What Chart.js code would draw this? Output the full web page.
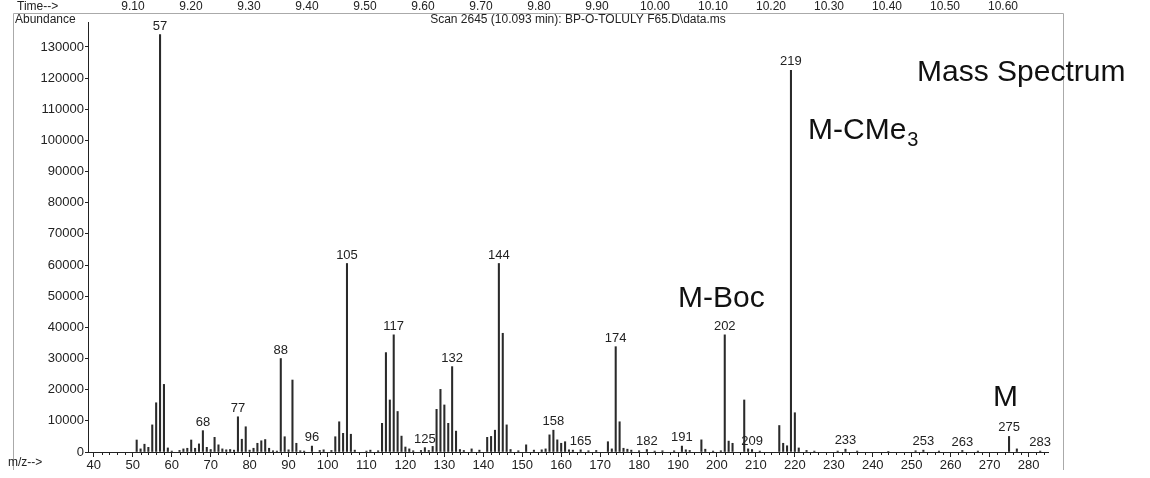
<!DOCTYPE html>
<html>
<head>
<meta charset="utf-8">
<title>Mass Spectrum</title>
<script src="https://cdn.jsdelivr.net/npm/chart.js@4.4.1/dist/chart.umd.min.js"></script>
<style>
  html, body { margin: 0; padding: 0; background: #fff; }
  #wrap { position: relative; width: 1150px; height: 478px; }
  #spec { position: absolute; left: 0; top: 0; }
</style>
</head>
<body>
<div id="wrap"><canvas id="spec" width="1150" height="478"></canvas></div>
<script>
/* ── spectrum data (m/z, abundance) ── */
const mzValues = [
  51, 52, 53, 54, 55, 56, 57, 58, 59, 60, 62, 63, 64, 65, 66, 67, 68, 69, 70, 71,
  72, 73, 74, 75, 76, 77, 78, 79, 80, 81, 82, 83, 84, 85, 86, 87, 88, 89, 90, 91,
  92, 93, 94, 96, 98, 99, 101, 102, 103, 104, 105, 106, 107, 110, 111, 113, 114, 115, 116, 117,
  118, 119, 120, 121, 122, 124, 125, 126, 127, 128, 129, 130, 131, 132, 133, 134, 135, 137, 139, 141,
  142, 143, 144, 145, 146, 147, 149, 151, 153, 155, 156, 157, 158, 159, 160, 161, 162, 163, 165, 167,
  169, 172, 173, 174, 175, 176, 177, 178, 180, 182, 184, 186, 189, 191, 192, 193, 196, 197, 199, 201,
  202, 203, 204, 207, 208, 209, 211, 216, 217, 218, 219, 220, 221, 223, 225, 231, 233, 236, 244, 251,
  253, 257, 263, 267, 275, 277, 283
];
const abundanceValues = [
  3850, 1000, 2500, 1500, 8700, 15800, 134000, 21700, 1300, 300, 500, 1000, 1200, 3850, 1200, 2600, 6850, 1500, 800, 4700,
  2300, 1000, 700, 800, 600, 11300, 4100, 8100, 600, 1200, 2800, 3600, 4000, 1200, 400, 300, 30000, 4900, 700, 23100,
  2800, 400, 300, 1900, 500, 700, 500, 4900, 9700, 6000, 60500, 5700, 600, 300, 600, 400, 9200, 31900, 16700, 37600,
  13000, 5100, 1600, 1000, 400, 500, 1400, 500, 1800, 13700, 20100, 15100, 9200, 27400, 6700, 800, 500, 1000, 600, 4700,
  5000, 7000, 60500, 38100, 8700, 800, 400, 2300, 600, 700, 1000, 5500, 7000, 3900, 2800, 3300, 700, 600, 700, 400,
  500, 3300, 1000, 33800, 9700, 1200, 900, 600, 400, 800, 300, 400, 400, 1900, 700, 500, 3900, 900, 300, 400,
  37600, 3500, 2800, 16700, 1000, 800, 300, 8500, 2800, 2000, 122500, 12600, 1300, 500, 300, 300, 900, 300, 200, 400,
  600, 300, 500, 300, 5000, 1000, 300
];
const labeledPeaks = [57, 68, 77, 88, 96, 105, 117, 125, 132, 144, 158, 165, 174, 182, 191, 202, 209, 219, 233, 253, 263, 275, 283];
const mzTicks = [40, 50, 60, 70, 80, 90, 100, 110, 120, 130, 140, 150, 160, 170, 180, 190, 200, 210, 220, 230, 240, 250, 260, 270, 280];
const abundanceTicks = [0, 10000, 20000, 30000, 40000, 50000, 60000, 70000, 80000, 90000, 100000, 110000, 120000, 130000];
const timeLabels = ["9.10", "9.20", "9.30", "9.40", "9.50", "9.60", "9.70", "9.80", "9.90", "10.00", "10.10", "10.20", "10.30", "10.40", "10.50", "10.60"];

const FONT = "'Liberation Sans', Arial, sans-serif";
const INK = "#222";

const peakData = mzValues.map((m, i) => ({ x: m, y: abundanceValues[i] }));

// peak labels, minor x ticks, header, notes
const decorPlugin = {
  id: "decor",
  afterDraw(chart) {
    const ctx = chart.ctx;
    const xs = chart.scales.x, ys = chart.scales.y;
    ctx.save();

    // frame
    ctx.strokeStyle = "#aaa";
    ctx.lineWidth = 1;
    ctx.beginPath();
    ctx.moveTo(13.5, 470); ctx.lineTo(13.5, 13.5); ctx.lineTo(1063.5, 13.5); ctx.lineTo(1063.5, 470);
    ctx.stroke();

    // minor ticks every 2 m/z
    ctx.strokeStyle = INK;
    ctx.beginPath();
    for (let m = 40; m <= 284; m += 2) {
      if (m % 10 === 0) continue;
      const px = Math.round(xs.getPixelForValue(m)) + 0.5;
      ctx.moveTo(px, ys.bottom); ctx.lineTo(px, ys.bottom + 3);
    }
    ctx.stroke();

    // peak labels
    ctx.fillStyle = INK;
    ctx.font = "13px " + FONT;
    ctx.textAlign = "center";
    ctx.textBaseline = "bottom";
    labeledPeaks.forEach(m => {
      const i = mzValues.indexOf(m);
      if (i < 0) return;
      ctx.fillText(String(m), xs.getPixelForValue(m), ys.getPixelForValue(abundanceValues[i]) - 2);
    });

    // header rows
    ctx.font = "12px " + FONT;
    ctx.textBaseline = "alphabetic";
    ctx.textAlign = "left";
    ctx.fillText("Time-->", 17, 10);
    ctx.fillText("Abundance", 15, 23);
    ctx.fillText("m/z-->", 8, 466);
    ctx.textAlign = "center";
    timeLabels.forEach((t, i) => ctx.fillText(t, 133 + i * 58, 10));
    ctx.fillText("Scan 2645 (10.093 min): BP-O-TOLULY F65.D\\data.ms", 578, 23);

    // fragment notes
    ctx.fillStyle = "#111";
    ctx.textAlign = "left";
    ctx.font = "30px " + FONT;
    ctx.fillText("Mass Spectrum", 917, 81);
    ctx.fillText("M-CMe", 808, 139);
    const w = ctx.measureText("M-CMe").width;
    ctx.font = "20px " + FONT;
    ctx.fillText("3", 808 + w + 1, 146);
    ctx.font = "30px " + FONT;
    ctx.fillText("M-Boc", 678, 307);
    ctx.fillText("M", 993, 406);
    ctx.restore();
  }
};

new Chart(document.getElementById("spec"), {
  type: "bar",
  data: {
    datasets: [{
      data: peakData,
      backgroundColor: "#2a2a2a",
      barThickness: 1.4,
      borderWidth: 0
    }]
  },
  options: {
    responsive: false,
    animation: false,
    devicePixelRatio: 1,
    layout: { padding: { top: 22, right: 102, left: 0, bottom: 0 } },
    plugins: { legend: { display: false }, tooltip: { enabled: false } },
    scales: {
      x: {
        type: "linear",
        offset: false,
        min: 38.5,
        max: 285,
        afterBuildTicks: s => { s.ticks = mzTicks.map(v => ({ value: v })); },
        afterFit: s => { s.height = 26; },
        border: { color: INK, width: 1 },
        grid: { drawOnChartArea: false, offset: false, color: INK, tickLength: 5 },
        ticks: { maxRotation: 0, autoSkip: false, color: INK, padding: 1, font: { family: FONT, size: 13 }, callback: v => String(v) }
      },
      y: {
        min: 0,
        max: 138000,
        afterBuildTicks: s => { s.ticks = abundanceTicks.map(v => ({ value: v })); },
        afterFit: s => { s.width = 88; },
        border: { color: INK, width: 1 },
        grid: { drawOnChartArea: false, color: INK, tickLength: 3 },
        ticks: { autoSkip: false, color: INK, padding: 1, font: { family: FONT, size: 13 }, callback: v => String(v) }
      }
    }
  },
  plugins: [decorPlugin]
});
</script>
</body>
</html>
